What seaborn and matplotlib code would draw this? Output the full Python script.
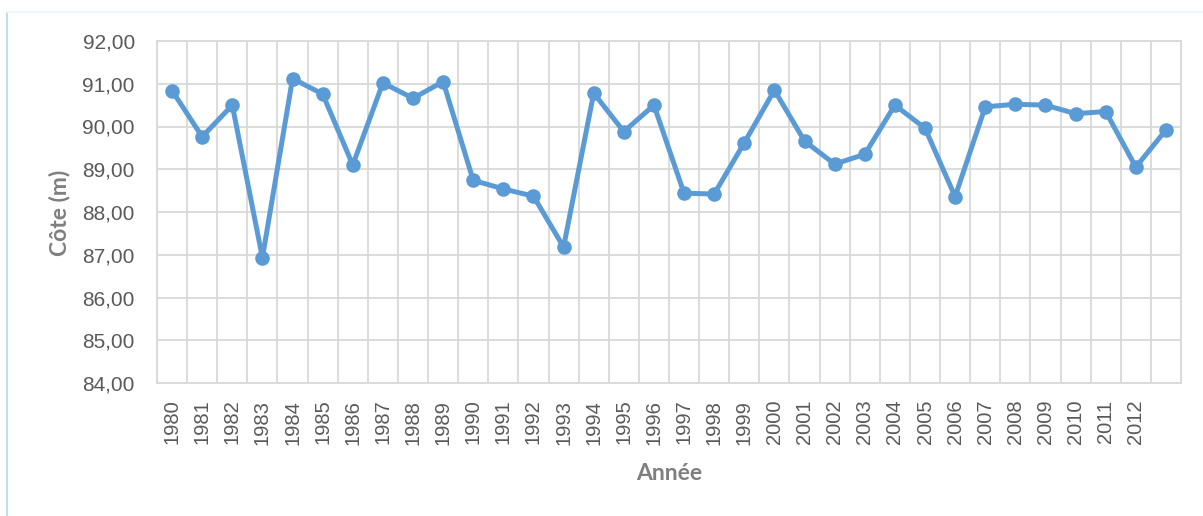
import seaborn as sns
import matplotlib.pyplot as plt
import pandas as pd
from matplotlib.lines import Line2D
from matplotlib.ticker import FuncFormatter, MultipleLocator

years = [str(y) for y in range(1980, 2013)] + ['']
cote = [90.84, 89.76, 90.50, 86.93, 91.12, 90.76, 89.10, 91.02, 90.66, 91.05,
        88.74, 88.54, 88.37, 87.18, 90.78, 89.88, 90.50, 88.44, 88.42, 89.62,
        90.85, 89.66, 89.12, 89.35, 90.50, 89.96, 88.36, 90.46, 90.52, 90.50,
        90.30, 90.35, 89.05, 89.92]
y_ticks = [84, 85, 86, 87, 88, 89, 90, 91, 92]

df = pd.DataFrame({'pos': range(len(years)), 'Année': years, 'Côte': cote})

sns.set_style('white')
plt.rcParams['font.family'] = ['Liberation Sans', 'DejaVu Sans']

fig = plt.figure(figsize=(12.03, 5.16), dpi=100)
ax = fig.add_axes([157 / 1203, 1 - 383 / 516, (1181 - 157) / 1203, (383 - 41) / 516])

sns.lineplot(data=df, x='pos', y='Côte', ax=ax, color='#5B9BD5', linewidth=3.6,
             marker='o', markersize=10.5, markeredgewidth=0, markeredgecolor='#5B9BD5')

ax.set_xlim(-0.5, len(years) - 0.5)
ax.set_ylim(84, 92)
ax.set_xticks(range(len(years)))
ax.set_xticklabels(years, rotation=90)
ax.set_xticks([i - 0.5 for i in range(len(years) + 1)], minor=True)
ax.set_yticks(y_ticks)
ax.yaxis.set_major_formatter(FuncFormatter(lambda v, p: f'{v:.2f}'.replace('.', ',')))

ax.grid(False)
ax.grid(True, which='minor', axis='x', color='#D9D9D9', linewidth=1.3)
ax.grid(True, which='major', axis='y', color='#D9D9D9', linewidth=1.3)
ax.set_axisbelow(True)
for s in ax.spines.values():
    s.set_color('#D9D9D9')
    s.set_linewidth(1.3)

ax.tick_params(axis='both', which='both', length=0)
ax.tick_params(axis='y', labelsize=15, labelcolor='#595959', pad=16)
ax.tick_params(axis='x', labelsize=14.5, labelcolor='#595959', pad=12)
ax.set_xlabel('')
ax.set_ylabel('')

fig.text(669 / 1203, 1 - 473 / 516, 'Année', ha='center', va='center',
         fontsize=16.5, fontweight='bold', color='#7F7F7F', family=['Lato', 'DejaVu Sans'])
fig.text(60 / 1203, 1 - 213 / 516, 'Côte (m)', ha='center', va='center', rotation=90,
         fontsize=16.5, fontweight='bold', color='#7F7F7F', family=['Lato', 'DejaVu Sans'])

# faint chart border
fig.add_artist(Line2D([7 / 1203, 7 / 1203], [0, 1 - 12 / 516], transform=fig.transFigure,
                      color='#C5DCF0', linewidth=1.5))
fig.add_artist(Line2D([7 / 1203, 1], [1 - 12 / 516, 1 - 12 / 516], transform=fig.transFigure,
                      color='#F0F6FC', linewidth=1.5))

plt.savefig('out.png', dpi=100)
